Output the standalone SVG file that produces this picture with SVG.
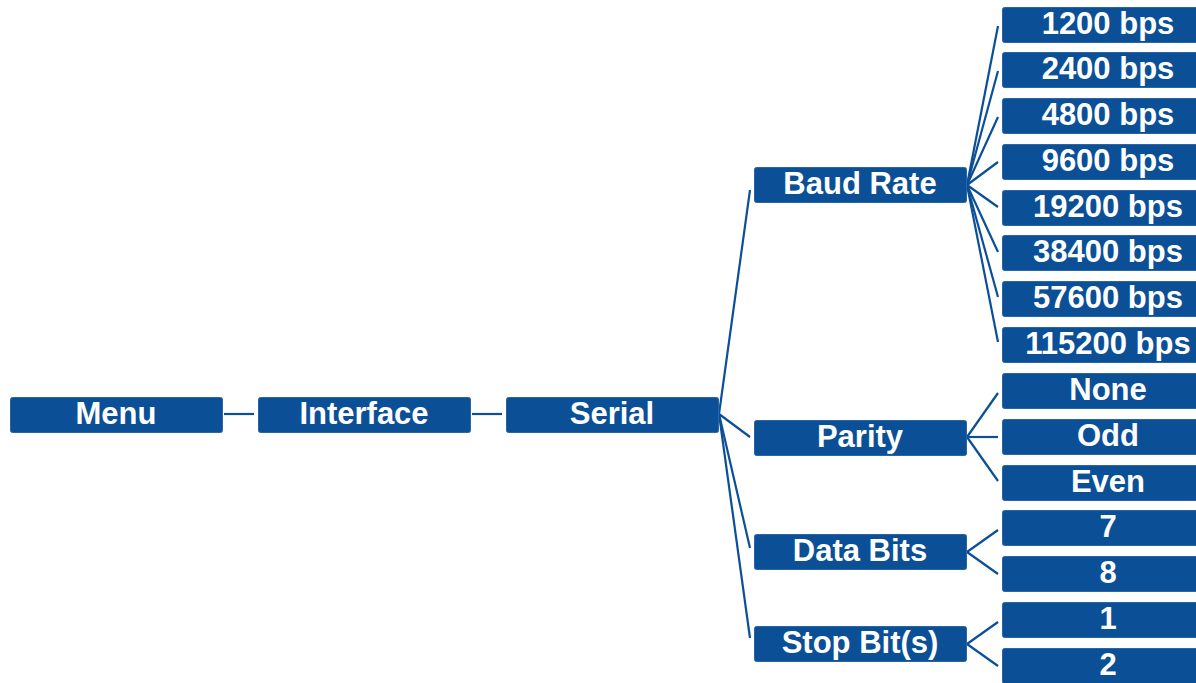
<svg xmlns="http://www.w3.org/2000/svg" width="1196" height="683" viewBox="0 0 1196 683">
<style>
.b{fill:#0b4f97;stroke:#2a66a6;stroke-width:1}
.t{fill:#fff;font-family:"Liberation Sans",Arial,sans-serif;font-weight:bold;font-size:31px;text-anchor:middle}
.c{stroke:#0b4f97;stroke-width:2.2;fill:none}
</style>
<rect width="1196" height="683" fill="#fff"/>
<g id="connectors" class="c">
<line x1="224" y1="414" x2="254" y2="414"/>
<line x1="472" y1="414" x2="502" y2="414"/>
<line x1="719" y1="414" x2="750" y2="190"/>
<line x1="719" y1="414" x2="750" y2="437"/>
<line x1="719" y1="414" x2="750" y2="548"/>
<line x1="719" y1="414" x2="750" y2="638"/>
<line x1="967" y1="185" x2="998" y2="26"/>
<line x1="967" y1="185" x2="998" y2="71"/>
<line x1="967" y1="185" x2="998" y2="117"/>
<line x1="967" y1="185" x2="998" y2="162"/>
<line x1="967" y1="185" x2="998" y2="207"/>
<line x1="967" y1="185" x2="998" y2="252"/>
<line x1="967" y1="185" x2="998" y2="297"/>
<line x1="967" y1="185" x2="998" y2="342"/>
<line x1="967" y1="437" x2="998" y2="393"/>
<line x1="967" y1="437" x2="998" y2="437"/>
<line x1="967" y1="437" x2="998" y2="481"/>
<line x1="967" y1="552" x2="998" y2="530"/>
<line x1="967" y1="552" x2="998" y2="574"/>
<line x1="967" y1="644" x2="998" y2="622"/>
<line x1="967" y1="644" x2="998" y2="666"/>
</g>
<g id="menu"><rect class="b" x="10.5" y="397.5" width="212" height="35" rx="2"/><text class="t" x="116" y="424">Menu</text></g>
<g id="interface"><rect class="b" x="258.5" y="397.5" width="212" height="35" rx="2"/><text class="t" x="364" y="424">Interface</text></g>
<g id="serial"><rect class="b" x="506.5" y="397.5" width="212" height="35" rx="2"/><text class="t" x="612" y="424">Serial</text></g>
<g id="baud"><rect class="b" x="754.5" y="167.5" width="212" height="35" rx="2"/><text class="t" x="860" y="194">Baud Rate</text></g>
<g id="parity"><rect class="b" x="754.5" y="420.5" width="212" height="35" rx="2"/><text class="t" x="860" y="447">Parity</text></g>
<g id="databits"><rect class="b" x="754.5" y="534.5" width="212" height="35" rx="2"/><text class="t" x="860" y="561">Data Bits</text></g>
<g id="stopbits"><rect class="b" x="754.5" y="626.5" width="212" height="35" rx="2"/><text class="t" x="860" y="653">Stop Bit(s)</text></g>
<g id="b1200"><rect class="b" x="1002.5" y="7.5" width="212" height="35" rx="2"/><text class="t" x="1108" y="34">1200 bps</text></g>
<g id="b2400"><rect class="b" x="1002.5" y="52.5" width="212" height="35" rx="2"/><text class="t" x="1108" y="79">2400 bps</text></g>
<g id="b4800"><rect class="b" x="1002.5" y="98.5" width="212" height="35" rx="2"/><text class="t" x="1108" y="125">4800 bps</text></g>
<g id="b9600"><rect class="b" x="1002.5" y="144.5" width="212" height="35" rx="2"/><text class="t" x="1108" y="171">9600 bps</text></g>
<g id="b19200"><rect class="b" x="1002.5" y="190.5" width="212" height="35" rx="2"/><text class="t" x="1108" y="217">19200 bps</text></g>
<g id="b38400"><rect class="b" x="1002.5" y="235.5" width="212" height="35" rx="2"/><text class="t" x="1108" y="262">38400 bps</text></g>
<g id="b57600"><rect class="b" x="1002.5" y="281.5" width="212" height="35" rx="2"/><text class="t" x="1108" y="308">57600 bps</text></g>
<g id="b115200"><rect class="b" x="1002.5" y="327.5" width="212" height="35" rx="2"/><text class="t" x="1108" y="354">115200 bps</text></g>
<g id="none"><rect class="b" x="1002.5" y="373.5" width="212" height="35" rx="2"/><text class="t" x="1108" y="400">None</text></g>
<g id="odd"><rect class="b" x="1002.5" y="419.5" width="212" height="35" rx="2"/><text class="t" x="1108" y="446">Odd</text></g>
<g id="even"><rect class="b" x="1002.5" y="465.5" width="212" height="35" rx="2"/><text class="t" x="1108" y="492">Even</text></g>
<g id="d7"><rect class="b" x="1002.5" y="510.5" width="212" height="35" rx="2"/><text class="t" x="1108" y="537">7</text></g>
<g id="d8"><rect class="b" x="1002.5" y="556.5" width="212" height="35" rx="2"/><text class="t" x="1108" y="583">8</text></g>
<g id="s1"><rect class="b" x="1002.5" y="602.5" width="212" height="35" rx="2"/><text class="t" x="1108" y="629">1</text></g>
<g id="s2"><rect class="b" x="1002.5" y="648.5" width="212" height="35" rx="2"/><text class="t" x="1108" y="675">2</text></g>
</svg>
